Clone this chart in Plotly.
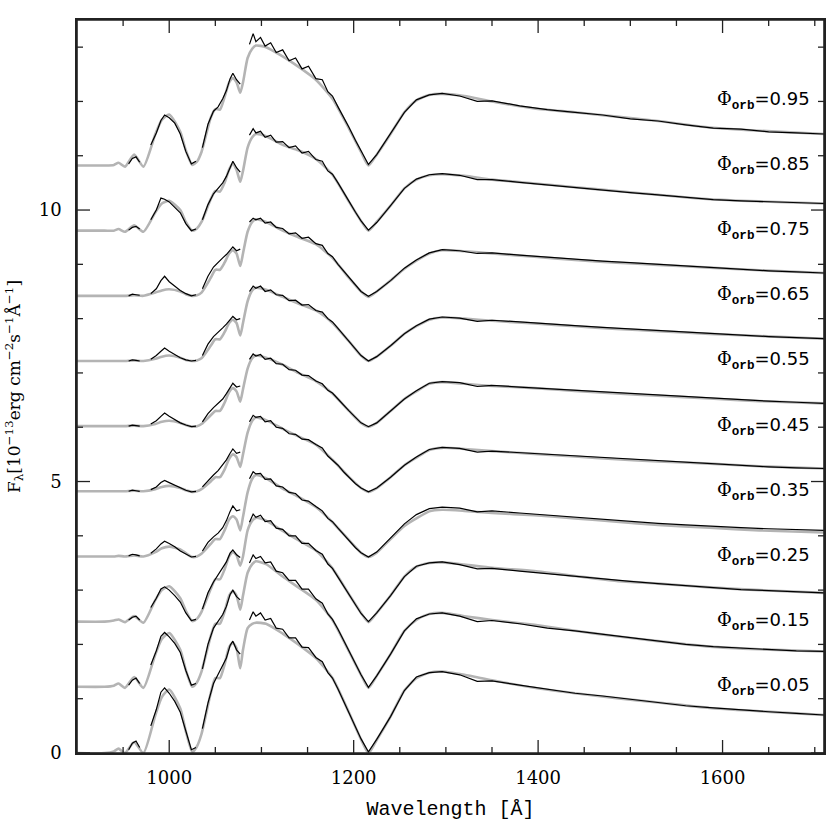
import plotly.graph_objects as go

# orbital phases, bottom to top, and the vertical offset of each spectrum
phases = ["0.05", "0.15", "0.25", "0.35", "0.45", "0.55", "0.65", "0.75", "0.85", "0.95"]
offsets = [0.0, 1.2, 2.4, 3.6, 4.8, 6.0, 7.2, 8.4, 9.6, 10.8]

# axes: ranges and tick positions
x_range = [900, 1710]
y_range = [0, 13.5]
x_major = [1000, 1200, 1400, 1600]
x_minor = [950, 1050, 1100, 1150, 1250, 1300, 1350, 1450, 1500, 1550, 1650, 1700]
y_major = [0, 5, 10]
y_minor = [1, 2, 3, 4, 6, 7, 8, 9, 11, 12, 13]

# model spectra (grey), wavelength grid in Angstrom, flux above each offset
model_wl = [900, 930, 940, 945, 952, 962, 972, 985, 992, 1000,
            1012, 1018, 1025, 1030, 1035, 1045, 1050, 1055, 1060, 1065,
            1069, 1073, 1077, 1080, 1085, 1090, 1094, 1105, 1123, 1140,
            1159, 1177, 1195, 1208, 1216, 1225, 1240, 1255, 1268, 1282,
            1296, 1320, 1350, 1396, 1440, 1485, 1530, 1586, 1640, 1710]

model_005 = [0.0, 0.0, 0.03, 0.08, 0.0, 0.2, 0.0, 0.7, 1.03, 1.17,
             0.82, 0.4, 0.02, 0.12, 0.35, 1.1, 1.38, 1.38, 1.63, 1.95,
             2.03, 1.93, 1.56, 1.9, 2.3, 2.38, 2.4, 2.38, 2.2, 2.0,
             1.75, 1.38, 0.74, 0.25, 0.0, 0.24, 0.67, 1.15, 1.38, 1.48,
             1.5, 1.44, 1.34, 1.2, 1.1, 1.01, 0.93, 0.83, 0.77, 0.7]
model_015 = [0.02, 0.02, 0.04, 0.08, 0.0, 0.2, 0.0, 0.62, 0.9, 1.01,
             0.7, 0.33, 0.02, 0.1, 0.3, 0.95, 1.18, 1.18, 1.4, 1.7,
             1.78, 1.7, 1.44, 1.7, 2.12, 2.28, 2.33, 2.28, 2.05, 1.85,
             1.62, 1.25, 0.67, 0.24, 0.0, 0.22, 0.62, 1.05, 1.25, 1.36,
             1.38, 1.32, 1.25, 1.16, 1.05, 0.95, 0.86, 0.76, 0.71, 0.67]
model_025 = [0.02, 0.02, 0.04, 0.06, 0.01, 0.12, 0.0, 0.42, 0.6, 0.67,
             0.45, 0.22, 0.03, 0.07, 0.2, 0.62, 0.8, 0.8, 0.98, 1.22,
             1.3, 1.24, 1.05, 1.22, 1.7, 1.88, 1.93, 1.88, 1.69, 1.52,
             1.33, 1.0, 0.52, 0.18, 0.01, 0.18, 0.5, 0.85, 1.03, 1.1,
             1.11, 1.07, 1.01, 0.95, 0.86, 0.77, 0.72, 0.65, 0.6, 0.55]
model_035 = [0.02, 0.02, 0.02, 0.03, 0.02, 0.04, 0.02, 0.1, 0.17, 0.2,
             0.15, 0.08, 0.01, 0.02, 0.07, 0.25, 0.34, 0.34, 0.5, 0.7,
             0.76, 0.7, 0.5, 0.75, 1.2, 1.45, 1.52, 1.46, 1.27, 1.12,
             0.93, 0.65, 0.32, 0.09, 0.01, 0.09, 0.34, 0.58, 0.72, 0.85,
             0.88, 0.86, 0.82, 0.78, 0.72, 0.66, 0.6, 0.55, 0.5, 0.46]
model_045 = [0.02, 0.02, 0.02, 0.02, 0.02, 0.03, 0.02, 0.06, 0.1, 0.12,
             0.08, 0.04, 0.01, 0.02, 0.06, 0.2, 0.28, 0.28, 0.42, 0.62,
             0.7, 0.65, 0.47, 0.7, 1.1, 1.32, 1.38, 1.33, 1.17, 1.03,
             0.88, 0.6, 0.28, 0.08, 0.01, 0.08, 0.28, 0.5, 0.64, 0.78,
             0.82, 0.8, 0.76, 0.71, 0.66, 0.61, 0.57, 0.53, 0.48, 0.44]
model_055 = [0.02, 0.02, 0.02, 0.02, 0.02, 0.03, 0.02, 0.06, 0.1, 0.12,
             0.08, 0.04, 0.01, 0.02, 0.06, 0.22, 0.3, 0.3, 0.45, 0.65,
             0.72, 0.66, 0.47, 0.7, 1.08, 1.27, 1.32, 1.28, 1.15, 1.0,
             0.85, 0.62, 0.3, 0.08, 0.01, 0.08, 0.3, 0.52, 0.66, 0.8,
             0.83, 0.8, 0.76, 0.72, 0.67, 0.62, 0.58, 0.53, 0.48, 0.44]
model_065 = [0.02, 0.02, 0.02, 0.02, 0.02, 0.03, 0.02, 0.06, 0.1, 0.12,
             0.08, 0.04, 0.02, 0.03, 0.07, 0.3, 0.42, 0.42, 0.55, 0.72,
             0.78, 0.72, 0.49, 0.72, 1.12, 1.32, 1.37, 1.33, 1.2, 1.08,
             0.95, 0.72, 0.38, 0.12, 0.02, 0.1, 0.3, 0.52, 0.66, 0.78,
             0.82, 0.8, 0.76, 0.71, 0.66, 0.61, 0.57, 0.52, 0.48, 0.43]
model_075 = [0.02, 0.02, 0.02, 0.02, 0.02, 0.03, 0.02, 0.08, 0.12, 0.14,
             0.1, 0.05, 0.02, 0.03, 0.08, 0.35, 0.5, 0.5, 0.63, 0.8,
             0.86, 0.8, 0.57, 0.8, 1.2, 1.38, 1.43, 1.38, 1.22, 1.1,
             0.97, 0.72, 0.35, 0.1, 0.0, 0.1, 0.3, 0.52, 0.67, 0.8,
             0.86, 0.84, 0.8, 0.74, 0.68, 0.63, 0.59, 0.54, 0.49, 0.44]
model_085 = [0.02, 0.02, 0.02, 0.05, 0.0, 0.12, 0.0, 0.36, 0.52, 0.57,
             0.4, 0.18, 0.02, 0.06, 0.18, 0.6, 0.75, 0.74, 0.9, 1.15,
             1.25, 1.14, 0.92, 1.12, 1.55, 1.74, 1.8, 1.76, 1.6, 1.5,
             1.34, 1.05, 0.55, 0.2, 0.02, 0.18, 0.48, 0.8, 0.96, 1.04,
             1.06, 1.03, 0.96, 0.89, 0.82, 0.75, 0.68, 0.6, 0.56, 0.52]
model_095 = [0.02, 0.02, 0.03, 0.07, 0.0, 0.22, 0.0, 0.6, 0.86, 0.96,
             0.64, 0.3, 0.03, 0.09, 0.27, 0.9, 1.06, 1.05, 1.28, 1.55,
             1.63, 1.55, 1.36, 1.55, 2.0, 2.17, 2.23, 2.2, 2.03, 1.84,
             1.6, 1.25, 0.7, 0.27, 0.02, 0.22, 0.6, 1.0, 1.22, 1.32,
             1.34, 1.3, 1.2, 1.07, 1.0, 0.92, 0.84, 0.72, 0.66, 0.6]

# observed spectra (black), None marks gaps in the data
obs_wl = [956, 960, 964, 968, 972, 980, 986, 991, 995, 1000,
          1006, 1012, 1018, 1024, 1029, 1032, 1036, 1042, 1048, 1053,
          1058, 1062, 1066, 1069, 1073, 1077, 1080, 1087, 1091, 1094,
          1099, 1104, 1110, 1116, 1123, 1130, 1137, 1144, 1151, 1159,
          1166, 1172, 1177, 1183, 1189, 1195, 1202, 1208, 1216, 1225,
          1240, 1255, 1268, 1282, 1296, 1315, 1334, 1350, 1380, 1410,
          1440, 1470, 1500, 1530, 1560, 1590, 1620, 1650, 1680, 1710]

obs_005 = [0.06, 0.18, 0.22, 0.1, None, 0.5, 0.8, 1.12, 1.2, 1.1,
           0.95, 0.75, 0.4, 0.06, 0.1, None, 0.45, 0.92, 1.28, 1.45,
           1.6, 1.75, 1.98, 2.06, 1.9, 1.82, None, 2.45, 2.6, 2.52,
           2.58, 2.45, 2.48, 2.3, 2.28, 2.12, 2.12, 1.95, 1.94, 1.76,
           1.68, 1.48, 1.38, 1.18, 0.96, 0.75, 0.5, 0.26, 0.02, 0.25,
           0.67, 1.15, 1.4, 1.48, 1.5, 1.44, 1.32, 1.33, 1.25, 1.17,
           1.1, 1.05, 0.99, 0.93, 0.87, 0.83, 0.79, 0.76, 0.73, 0.7]
obs_015 = [0.05, 0.14, 0.18, 0.08, None, 0.42, 0.68, 0.95, 1.02, 0.94,
           0.82, 0.65, 0.32, 0.05, 0.08, None, 0.35, 0.8, 1.1, 1.22,
           1.35, 1.5, 1.72, 1.8, 1.68, 1.62, None, 2.3, 2.45, 2.38,
           2.42, 2.3, 2.32, 2.15, 2.12, 1.98, 1.98, 1.82, 1.82, 1.64,
           1.56, 1.36, 1.26, 1.08, 0.88, 0.68, 0.45, 0.24, 0.01, 0.22,
           0.62, 1.05, 1.27, 1.36, 1.38, 1.32, 1.22, 1.24, 1.18, 1.1,
           1.05, 0.99, 0.92, 0.86, 0.8, 0.76, 0.73, 0.7, 0.68, 0.67]
obs_025 = [0.05, 0.1, 0.12, 0.05, None, 0.28, 0.45, 0.62, 0.66, 0.6,
           0.5, 0.38, 0.18, 0.04, 0.06, None, 0.25, 0.55, 0.75, 0.88,
           1.0, 1.12, 1.28, 1.34, 1.25, 1.2, None, 1.85, 2.0, 1.94,
           1.98, 1.86, 1.88, 1.74, 1.72, 1.6, 1.6, 1.46, 1.46, 1.33,
           1.26, 1.08, 1.0, 0.84, 0.68, 0.52, 0.34, 0.17, 0.02, 0.18,
           0.5, 0.85, 1.04, 1.1, 1.12, 1.07, 0.99, 1.0, 0.95, 0.9,
           0.86, 0.81, 0.76, 0.72, 0.68, 0.64, 0.61, 0.59, 0.57, 0.55]
obs_035 = [0.03, 0.06, 0.05, 0.03, None, 0.08, 0.16, 0.25, 0.3, 0.26,
           0.2, 0.12, 0.06, 0.01, 0.02, None, 0.12, 0.28, 0.38, 0.45,
           0.55, 0.68, 0.85, 0.95, 0.86, 0.88, None, 1.45, 1.58, 1.54,
           1.55, 1.44, 1.45, 1.32, 1.3, 1.2, 1.18, 1.06, 1.04, 0.94,
           0.86, 0.72, 0.66, 0.54, 0.42, 0.32, 0.18, 0.09, 0.01, 0.1,
           0.36, 0.62, 0.79, 0.9, 0.93, 0.91, 0.84, 0.86, 0.82, 0.78,
           0.75, 0.71, 0.67, 0.63, 0.6, 0.57, 0.55, 0.53, 0.51, 0.5]
obs_045 = [0.02, 0.04, 0.03, 0.02, None, 0.05, 0.1, 0.18, 0.22, 0.18,
           0.13, 0.08, 0.04, 0.01, 0.02, None, 0.1, 0.22, 0.32, 0.4,
           0.5, 0.6, 0.72, 0.8, 0.72, 0.74, None, 1.3, 1.42, 1.38,
           1.4, 1.3, 1.32, 1.2, 1.18, 1.08, 1.07, 0.98, 0.97, 0.88,
           0.82, 0.67, 0.6, 0.5, 0.38, 0.28, 0.16, 0.08, 0.01, 0.08,
           0.28, 0.5, 0.65, 0.79, 0.83, 0.81, 0.74, 0.76, 0.73, 0.7,
           0.67, 0.64, 0.61, 0.58, 0.55, 0.52, 0.5, 0.47, 0.45, 0.44]
obs_055 = [0.02, 0.04, 0.03, 0.02, None, 0.06, 0.12, 0.2, 0.26, 0.2,
           0.14, 0.08, 0.04, 0.01, 0.02, None, 0.1, 0.25, 0.36, 0.44,
           0.52, 0.62, 0.74, 0.81, 0.74, 0.76, None, 1.25, 1.35, 1.31,
           1.34, 1.25, 1.27, 1.17, 1.16, 1.06, 1.05, 0.96, 0.95, 0.85,
           0.8, 0.68, 0.63, 0.52, 0.4, 0.3, 0.18, 0.08, 0.01, 0.08,
           0.3, 0.52, 0.67, 0.81, 0.84, 0.82, 0.75, 0.77, 0.74, 0.71,
           0.68, 0.65, 0.62, 0.59, 0.56, 0.53, 0.5, 0.48, 0.46, 0.44]
obs_065 = [0.02, 0.04, 0.03, 0.02, None, 0.05, 0.12, 0.2, 0.26, 0.2,
           0.14, 0.08, 0.04, 0.02, 0.03, None, 0.12, 0.33, 0.47, 0.56,
           0.63, 0.7, 0.78, 0.84, 0.78, 0.8, None, 1.3, 1.4, 1.36,
           1.4, 1.3, 1.33, 1.24, 1.23, 1.13, 1.14, 1.05, 1.06, 0.95,
           0.92, 0.8, 0.74, 0.62, 0.5, 0.39, 0.25, 0.12, 0.02, 0.1,
           0.3, 0.52, 0.67, 0.79, 0.83, 0.81, 0.75, 0.77, 0.74, 0.7,
           0.67, 0.64, 0.61, 0.58, 0.55, 0.52, 0.5, 0.47, 0.45, 0.43]
obs_075 = [0.02, 0.05, 0.04, 0.03, None, 0.06, 0.15, 0.3, 0.38, 0.28,
           0.2, 0.12, 0.06, 0.02, 0.04, None, 0.15, 0.38, 0.55, 0.64,
           0.72, 0.78, 0.86, 0.92, 0.85, 0.88, None, 1.38, 1.45, 1.42,
           1.45, 1.36, 1.38, 1.28, 1.26, 1.16, 1.18, 1.08, 1.1, 0.98,
           0.95, 0.8, 0.74, 0.6, 0.48, 0.36, 0.22, 0.1, 0.01, 0.1,
           0.3, 0.53, 0.68, 0.81, 0.87, 0.85, 0.8, 0.81, 0.77, 0.73,
           0.69, 0.66, 0.63, 0.6, 0.56, 0.53, 0.51, 0.48, 0.46, 0.44]
obs_085 = [0.03, 0.08, 0.1, 0.05, None, 0.22, 0.4, 0.62, 0.6, 0.55,
           0.45, 0.35, 0.15, 0.02, 0.05, None, 0.22, 0.5, 0.7, 0.8,
           0.9, 1.02, 1.2, 1.3, 1.18, 1.1, None, 1.78, 1.9, 1.82,
           1.85, 1.74, 1.78, 1.65, 1.66, 1.55, 1.58, 1.45, 1.48, 1.33,
           1.3, 1.12, 1.06, 0.9, 0.72, 0.56, 0.36, 0.2, 0.03, 0.17,
           0.48, 0.8, 0.97, 1.05, 1.07, 1.04, 0.96, 0.96, 0.91, 0.86,
           0.82, 0.77, 0.72, 0.68, 0.63, 0.59, 0.57, 0.55, 0.53, 0.52]
obs_095 = [0.05, 0.15, 0.18, 0.08, None, 0.4, 0.62, 0.85, 0.95, 0.9,
           0.8, 0.6, 0.28, 0.05, 0.1, None, 0.35, 0.78, 1.02, 1.1,
           1.25, 1.4, 1.62, 1.72, 1.6, 1.52, None, 2.25, 2.45, 2.3,
           2.38, 2.22, 2.28, 2.1, 2.15, 1.95, 2.0, 1.8, 1.85, 1.62,
           1.6, 1.38, 1.3, 1.1, 0.92, 0.72, 0.48, 0.28, 0.04, 0.22,
           0.6, 1.0, 1.23, 1.32, 1.35, 1.3, 1.2, 1.21, 1.12, 1.05,
           1.0, 0.95, 0.88, 0.84, 0.77, 0.71, 0.69, 0.64, 0.62, 0.6]

models = [model_005, model_015, model_025, model_035, model_045,
          model_055, model_065, model_075, model_085, model_095]
observed = [obs_005, obs_015, obs_025, obs_035, obs_045,
            obs_055, obs_065, obs_075, obs_085, obs_095]

W, H = 830, 830
ML, MR, MT, MB = 77, 6, 20, 77

fig = go.Figure()

# grey model curves first so the data sit on top
for off, mod in zip(offsets, models):
    assert len(mod) == len(model_wl)
    fig.add_trace(go.Scatter(
        x=model_wl, y=[off + v for v in mod], mode="lines",
        line=dict(color="#b4b4b4", width=2.6, shape="spline", smoothing=0.6),
        hoverinfo="skip", showlegend=False))

for off, obs in zip(offsets, observed):
    assert len(obs) == len(obs_wl)
    fig.add_trace(go.Scatter(
        x=obs_wl, y=[None if v is None else off + v for v in obs], mode="lines",
        line=dict(color="black", width=1.2), connectgaps=False,
        hoverinfo="skip", showlegend=False))

# inward ticks on all four sides; tick length given in pixels, turned into axis units
ax_per_px = (x_range[1] - x_range[0]) / (W - ML - MR)
ay_per_px = (y_range[1] - y_range[0]) / (H - MT - MB)
tx, ty = [], []
for xs, ln in ((x_major, 13), (x_minor, 6)):
    for xv in xs:
        tx += [xv, xv, None, xv, xv, None]
        ty += [y_range[0], y_range[0] + ln * ay_per_px, None,
               y_range[1], y_range[1] - ln * ay_per_px, None]
for ys, ln in ((y_major, 13), (y_minor, 6)):
    for yv in ys:
        tx += [x_range[0], x_range[0] + ln * ax_per_px, None,
               x_range[1], x_range[1] - ln * ax_per_px, None]
        ty += [yv, yv, None, yv, yv, None]
fig.add_trace(go.Scatter(x=tx, y=ty, mode="lines", line=dict(color="#222222", width=1.3),
                         hoverinfo="skip", showlegend=False))

# phase labels, each sits just above the spectrum it names
for ph, off in zip(phases, offsets):
    fig.add_annotation(
        x=1697, y=off + 1.22, xref="x", yref="y",
        xanchor="right", yanchor="middle", showarrow=False,
        text=("<span style='font-family:DejaVu Serif'>Φ</span>"
              "<sub><span style='font-family:Liberation Mono'><b>orb</b></span></sub>=" + ph),
        font=dict(family="DejaVu Sans", size=18, color="black"))

# frame round the plot area
fig.add_shape(type="rect", xref="paper", yref="paper", x0=0, x1=1, y0=0, y1=1,
              line=dict(color="#222222", width=1.6), layer="above")

tick_font = dict(family="DejaVu Serif", size=18, color="black")

fig.update_layout(
    width=W, height=H,
    margin=dict(l=ML, r=MR, t=MT, b=MB),
    plot_bgcolor="white", paper_bgcolor="white",
    xaxis=dict(
        range=x_range, tickmode="array", tickvals=x_major,
        showline=True, linecolor="#222222", linewidth=1.6, mirror=True,
        ticks="", ticklabelstandoff=8,
        showgrid=False, zeroline=False, tickfont=tick_font, automargin=False,
        title=dict(text="Wavelength [Å]", standoff=14,
                   font=dict(family="Liberation Mono", size=20, color="black"))),
    yaxis=dict(
        range=y_range, tickmode="array", tickvals=y_major,
        showline=True, linecolor="#222222", linewidth=1.6, mirror=True,
        ticks="", ticklabelstandoff=10,
        showgrid=False, zeroline=False, tickfont=tick_font, automargin=False,
        title=dict(text="F<sub>λ</sub>[10<sup>−13</sup>erg cm<sup>−2</sup>s<sup>−1</sup>Å<sup>−1</sup>]",
                   standoff=14,
                   font=dict(family="DejaVu Serif", size=17, color="black"))),
)

# page body has a default margin; drop it so the figure fills the window
fig.write_html("out.html", config={"displayModeBar": False},
               post_script="document.body.style.margin='0';")
